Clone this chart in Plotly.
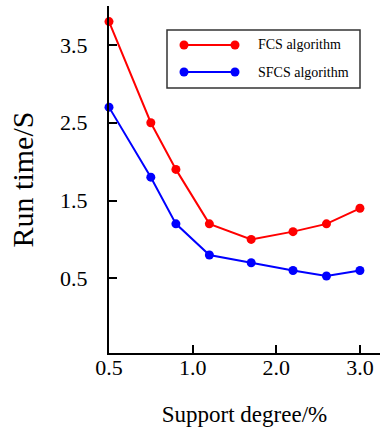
import plotly.graph_objects as go

# ---- data ----
support_pos = [0.0, 0.5, 0.8, 1.2, 1.7, 2.2, 2.6, 3.0]   # position along the (non-linear) support axis
fcs_time = [3.8, 2.5, 1.9, 1.2, 1.0, 1.1, 1.2, 1.4]
sfcs_time = [2.7, 1.8, 1.2, 0.8, 0.7, 0.6, 0.53, 0.6]
x_tick_pos = [0, 1, 2, 3]
x_tick_text = ["0.5", "1.0", "2.0", "3.0"]
y_tick_vals = [0.5, 1.5, 2.5, 3.5]
y_tick_text = ["0.5", "1.5", "2.5", "3.5"]
series_names = ["FCS algorithm", "SFCS algorithm"]
series_colors = ["#ff0000", "#0000ff"]

W, H = 380, 430
ML, MR, MT, MB = 109, 0, 6, 77
FONT = "Liberation Serif"

fig = go.Figure()
for ys, name, col in zip([fcs_time, sfcs_time], series_names, series_colors):
    fig.add_trace(go.Scatter(
        x=support_pos, y=ys, mode="lines+markers", name=name,
        line=dict(color=col, width=2),
        marker=dict(color=col, size=9),
        showlegend=False, cliponaxis=False,
    ))

pw, ph = W - ML - MR, H - MT - MB
def px(x):
    return (x - ML) / pw
def py(y):
    return 1 - (y - MT) / ph

shapes = [dict(type="rect", xref="paper", yref="paper",
               x0=px(167), x1=px(360), y0=py(88), y1=py(30),
               line=dict(color="#333333", width=1.5), fillcolor="white")]
annotations = []
for i, (name, col) in enumerate(zip(series_names, series_colors)):
    yy = 45 + 27 * i
    shapes.append(dict(type="line", xref="paper", yref="paper",
                       x0=px(184), x1=px(235), y0=py(yy), y1=py(yy),
                       line=dict(color=col, width=2)))
    for cx in (184, 235):
        shapes.append(dict(type="circle", xref="paper", yref="paper",
                           x0=px(cx - 4.5), x1=px(cx + 4.5),
                           y0=py(yy + 4.5), y1=py(yy - 4.5),
                           fillcolor=col, line=dict(color=col, width=0)))
    annotations.append(dict(xref="paper", yref="paper", x=px(256), y=py(yy),
                            xanchor="left", yanchor="middle", showarrow=False,
                            text=name, font=dict(family=FONT, size=14, color="black")))

fig.update_layout(
    width=W, height=H,
    margin=dict(l=ML, r=MR, t=MT, b=MB, autoexpand=False),
    paper_bgcolor="white", plot_bgcolor="white",
    font=dict(family=FONT, color="black"),
    shapes=shapes, annotations=annotations,
    showlegend=False,
)
fig.update_xaxes(
    range=[0, 3.24], tickvals=x_tick_pos, ticktext=x_tick_text, automargin=False,
    showgrid=False, zeroline=False, showline=True, linecolor="black", linewidth=2,
    ticks="inside", ticklen=8, tickwidth=1.5, tickcolor="black",
    tickfont=dict(family=FONT, size=22, color="black"), ticklabelstandoff=-6,
    title=dict(text="Support degree/%", font=dict(family=FONT, size=23, color="black"), standoff=26),
)
fig.update_yaxes(
    range=[-0.46, 4.0], tickvals=y_tick_vals, ticktext=y_tick_text, automargin=False,
    showgrid=False, zeroline=False, showline=True, linecolor="black", linewidth=2,
    ticks="inside", ticklen=8, tickwidth=1.5, tickcolor="black",
    tickfont=dict(family=FONT, size=22, color="black"), ticklabelstandoff=15,
    title=dict(text="Run time/S", font=dict(family=FONT, size=30, color="black"), standoff=18),
)

fig.write_html("out.html", config={"displayModeBar": False},
               post_script="document.body.style.margin='0';document.body.style.overflow='hidden';")
